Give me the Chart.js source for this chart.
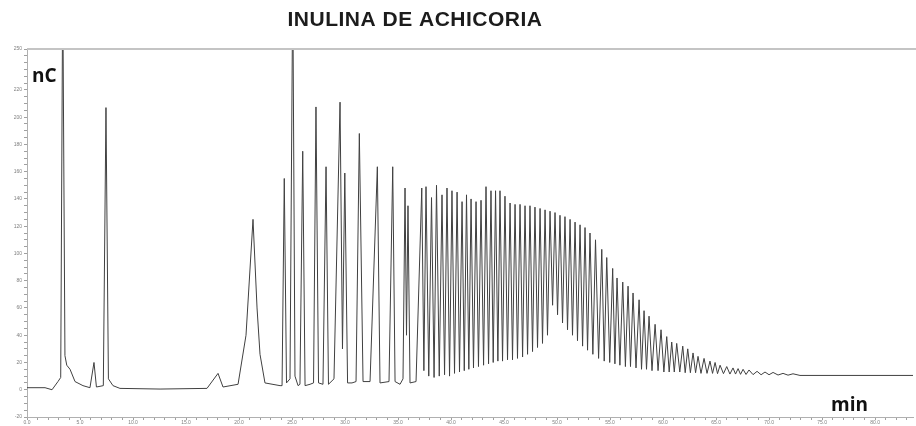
<!DOCTYPE html>
<html>
<head>
<meta charset="utf-8">
<script src="https://cdn.jsdelivr.net/npm/chart.js@4.4.1/dist/chart.umd.min.js"></script>
<style>
  body { margin: 0; background: #fff; }
  canvas { display: block; }
</style>
</head>
<body>
<canvas id="cromatograma" width="916" height="426"></canvas>
<script>
const tiempoMin = [
  0.00, 1.70, 2.36, 2.92, 3.18, 3.37, 3.58, 3.75, 4.06, 4.53, 5.28, 5.94, 6.32, 6.55, 7.20, 7.45, 7.68, 8.11, 8.77,
  12.55, 16.98, 18.02, 18.49, 19.91, 20.66, 21.32, 21.70, 21.98, 22.45, 23.87,
  24.06, 24.27, 24.48, 24.81, 25.07, 25.28, 25.57, 25.75, 26.01, 26.23, 26.70, 27.03, 27.26, 27.50,
  27.92, 28.21, 28.44, 28.96, 29.53, 29.76, 29.98, 30.24, 30.66, 31.04, 31.35, 31.70, 32.36, 33.05,
  33.30, 34.15, 34.50, 34.72, 35.19, 35.47, 35.66, 35.80, 35.94, 36.13, 36.70,
  37.24, 37.44, 37.64, 37.90, 38.16, 38.40, 38.63, 38.89, 39.15, 39.39, 39.62, 39.86, 40.09, 40.33,
  40.57, 40.80, 41.04, 41.25, 41.46, 41.68, 41.89, 42.12, 42.36, 42.59, 42.83, 43.07, 43.30, 43.54,
  43.77, 43.98, 44.20, 44.42, 44.62, 44.86, 45.09, 45.33, 45.57, 45.80, 46.04, 46.27, 46.51, 46.75,
  46.98, 47.22, 47.45, 47.69, 47.92, 48.16, 48.40, 48.63, 48.87, 49.10, 49.34, 49.58, 49.81, 50.05,
  50.28, 50.52, 50.75, 50.99, 51.23, 51.46, 51.70, 51.93, 52.17, 52.41, 52.64, 52.88, 53.11, 53.38,
  53.63, 53.92, 54.22, 54.45, 54.69, 54.97, 55.25, 55.46, 55.66, 55.93, 56.20, 56.45, 56.70, 56.93,
  57.17, 57.45, 57.74, 57.97, 58.21, 58.44, 58.68, 58.96, 59.25, 59.53, 59.81, 60.08, 60.35, 60.58,
  60.82, 61.06, 61.29, 61.58, 61.86, 62.09, 62.33, 62.58, 62.83, 63.07, 63.30, 63.58, 63.87, 64.15,
  64.43, 64.67, 64.91, 65.14, 65.38, 65.70, 66.01, 66.31, 66.60, 66.84, 67.08, 67.31, 67.55, 67.83,
  68.11, 68.49, 68.87, 69.25, 69.62, 70.00, 70.38, 70.85, 71.32, 71.79, 72.26, 72.92, 83.58
];
const senalNC = [
  1.5, 1.5, 0, 6, 9, 300, 25, 18, 15, 6, 3, 1.5, 20, 2, 3, 207, 8, 3, 1,
  0.5, 1, 12, 2, 4, 40, 125, 60, 26, 5, 3,
  3, 155, 5, 8, 300, 10, 3, 4, 175, 3, 4, 5, 207.5, 5,
  4, 163.6, 4, 8, 211, 30, 159, 5, 5, 6, 188, 6, 6, 163.6,
  5, 6, 163.6, 6, 4, 8, 148, 40, 135, 5, 6,
  148, 14, 149, 10, 141, 9, 150, 10, 143, 11, 148, 10, 146, 12,
  145, 13, 138, 14, 143, 15, 140, 16, 138, 17, 139, 18, 149, 19,
  146, 20, 146, 21, 146, 21, 142, 22, 137, 22, 136, 23, 136, 24,
  135, 26, 135, 28, 134, 31, 133, 34, 132, 40, 131, 62, 130, 55,
  128, 49, 127, 44, 125, 40, 123, 36, 121, 32, 119, 29, 115, 26,
  110, 23, 103, 21, 97, 20, 89, 19, 82, 18, 79, 17, 76, 17,
  71, 16, 66, 15, 58, 15, 54, 14, 48, 14, 44, 13, 39, 13,
  35, 13, 34, 13, 32, 12.5, 30, 12.5, 27, 12.5, 24.5, 12, 23, 12,
  21, 12, 20, 11.8, 18, 11.8, 17, 11.5, 16, 11.5, 15.5, 11.3, 15, 11.2,
  14.5, 11.1, 13.5, 11, 13, 11, 12.7, 10.8, 12, 10.7, 11.7, 10.5, 10.5
];

// Etiquetas de los ejes
const etiquetasX = [0, 5, 10, 15, 20, 25, 30, 35, 40, 45, 50, 55, 60, 65, 70, 75, 80];
const etiquetasY = [-20, 0, 20, 40, 60, 80, 100, 120, 140, 160, 180, 200, 220, 250];
const titulo = "INULINA DE ACHICORIA";

const puntos = tiempoMin.map((t, i) => ({ x: t, y: senalNC[i] }));

// marcas menores: cada minuto en x, cada 5 nC en y
const marcasX = [];
for (let v = 0; v <= 83; v++) marcasX.push(v);
const marcasY = [];
for (let v = -20; v <= 250; v += 5) marcasY.push(v);

//Texto del título y rótulos nC / min, línea del borde superior
const textosPlugin = {
  id: "textos",
  afterDraw(chart) {
    const ctx = chart.ctx;
    const area = chart.chartArea;
    ctx.save();
    ctx.strokeStyle = "#c4c4c4";
    ctx.lineWidth = 2;
    ctx.beginPath();
    ctx.moveTo(area.left, area.top);
    ctx.lineTo(chart.width, area.top);
    ctx.stroke();

    ctx.fillStyle = "#1c1c1c";
    ctx.font = 'bold 21px "Liberation Sans", Arial, sans-serif';
    ctx.letterSpacing = "0.5px";
    ctx.textAlign = "center";
    ctx.textBaseline = "middle";
    ctx.fillText(titulo, 415, 20);

    ctx.letterSpacing = "0px";
    ctx.fillStyle = "#111";
    ctx.font = 'bold 19px "Open Sans", sans-serif';
    ctx.textAlign = "left";
    ctx.textBaseline = "alphabetic";
    ctx.fillText("nC", 32, 82);
    ctx.fillText("min", 831, 411);
    ctx.restore();
  }
};

const config = {
  type: "line",
  data: {
    datasets: [{
      data: puntos,
      borderColor: "#404040",
      borderWidth: 1,
      pointRadius: 0,
      tension: 0,
      fill: false
    }]
  },
  options: {
    responsive: false,
    animation: false,
    layout: { padding: { top: 49, right: 3, left: 0, bottom: 0 } },
    scales: {
      x: {
        type: "linear",
        min: 0,
        max: 83.58,
        afterBuildTicks: (scale) => { scale.ticks = marcasX.map(v => ({ value: v })); },
        afterFit: (scale) => { scale.height = 9; },
        grid: { drawOnChartArea: false, tickLength: 3, color: "#a0a0a0" },
        border: { color: "#b0b0b0" },
        ticks: {
          autoSkip: false,
          maxRotation: 0,
          padding: 0,
          color: "#808080",
          font: { size: 5 },
          callback: (v) => etiquetasX.includes(v) ? v.toFixed(1) : ""
        }
      },
      y: {
        min: -20,
        max: 250,
        afterBuildTicks: (scale) => { scale.ticks = marcasY.map(v => ({ value: v })); },
        afterFit: (scale) => { scale.width = 27; },
        grid: { drawOnChartArea: false, tickLength: 3, color: "#a0a0a0" },
        border: { color: "#b0b0b0" },
        ticks: {
          autoSkip: false,
          padding: 2,
          color: "#808080",
          font: { size: 5 },
          callback: (v) => etiquetasY.includes(v) ? String(v) : ""
        }
      }
    },
    plugins: {
      legend: { display: false },
      tooltip: { enabled: false }
    }
  },
  plugins: [textosPlugin]
};

const myChart = new Chart(document.getElementById("cromatograma"), config);
</script>
</body>
</html>
